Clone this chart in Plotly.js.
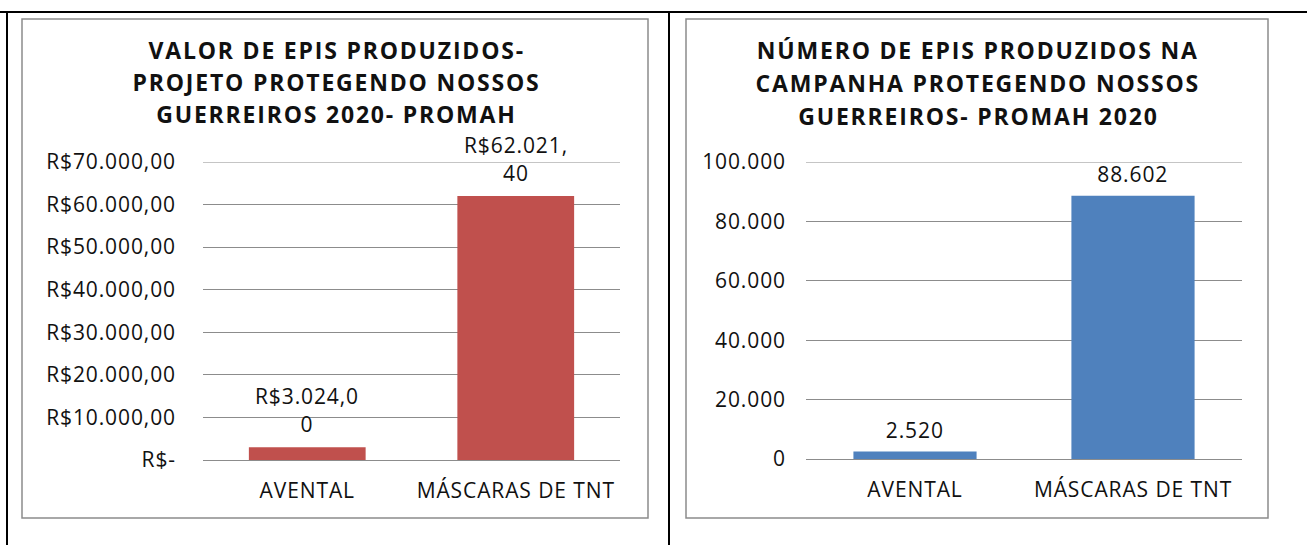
<!DOCTYPE html>
<html><head><meta charset="utf-8">
<script src="https://cdn.plot.ly/plotly-3.0.1.min.js"></script>
<style>
html,body{margin:0;padding:0;background:#fff;overflow:hidden}
#chart{width:1307px;height:545px}
#chart text{letter-spacing:0.9px}
#chart text[style*="font-size: 23px"]{letter-spacing:1.8px}
</style>
</head><body><div id="chart"></div>
<script>
const categories = ["AVENTAL", "MÁSCARAS DE TNT"];
const valorValues = [3024.00, 62021.40];
const numeroValues = [2520, 88602];
const valorTickVals = [0, 10000, 20000, 30000, 40000, 50000, 60000, 70000];
const valorTickText = ["R$-", "R$10.000,00", "R$20.000,00", "R$30.000,00", "R$40.000,00", "R$50.000,00", "R$60.000,00", "R$70.000,00"];
const numeroTickVals = [0, 20000, 40000, 60000, 80000, 100000];
const numeroTickText = ["0", "20.000", "40.000", "60.000", "80.000", "100.000"];
const valorTitleLines = ["VALOR DE EPIS PRODUZIDOS-", "PROJETO PROTEGENDO NOSSOS", "GUERREIROS 2020- PROMAH"];
const numeroTitleLines = ["NÚMERO DE EPIS PRODUZIDOS NA", "CAMPANHA PROTEGENDO NOSSOS", "GUERREIROS- PROMAH 2020"];
const redColor = "#C0504D";
const blueColor = "#4F81BD";

function thousands(intPart) {
  return String(intPart).replace(/\B(?=(\d{3})+(?!\d))/g, ".");
}
function brl(v) {
  const cents = Math.round(v * 100);
  const ip = Math.floor(cents / 100);
  const dp = String(cents % 100).padStart(2, "0");
  return "R$" + thousands(ip) + "," + dp;
}
function wrap(s, n) {
  const out = [];
  for (let i = 0; i < s.length; i += n) out.push(s.slice(i, i + n));
  return out;
}

const FONT = "'Open Sans', Lato, sans-serif";
const TXT = "#111";
const traces = [
  {type: "bar", x: categories, y: valorValues, marker: {color: redColor}, xaxis: "x", yaxis: "y", width: 0.56, hoverinfo: "none"},
  {type: "bar", x: categories, y: numeroValues, marker: {color: blueColor}, xaxis: "x2", yaxis: "y2", width: 0.565, hoverinfo: "none"}
];

function px(x) { return x / 1307; }
function py(y) { return 1 - y / 545; }

const annotations = [];
valorValues.forEach((v, i) => {
  const lines = wrap(brl(v), 9);
  lines.slice().reverse().forEach((ln, k) => {
    annotations.push({x: categories[i], y: v, xref: "x", yref: "y", text: ln, showarrow: false,
      yanchor: "middle", yshift: 23 + k * 28, font: {family: FONT, size: 21, color: TXT}});
  });
});
numeroValues.forEach((v, i) => {
  annotations.push({x: categories[i], y: v, xref: "x2", yref: "y2", text: thousands(v), showarrow: false,
    yanchor: "middle", yshift: 22, font: {family: FONT, size: 21, color: TXT}});
});
valorTitleLines.forEach((ln, k) => {
  annotations.push({x: px(337), y: py(50 + k * 32), xref: "paper", yref: "paper", text: ln, showarrow: false,
    xanchor: "center", yanchor: "middle", font: {family: FONT, size: 23, color: TXT, weight: "bold"}});
});
numeroTitleLines.forEach((ln, k) => {
  annotations.push({x: px(978), y: py(50 + k * 33), xref: "paper", yref: "paper", text: ln, showarrow: false,
    xanchor: "center", yanchor: "middle", font: {family: FONT, size: 23, color: TXT, weight: "bold"}});
});

const gridC = "#8C8C8C";
const shapes = [
  {type: "line", xref: "paper", yref: "paper", x0: px(0), x1: px(1307), y0: py(12), y1: py(12), line: {color: "#000", width: 2}},
  {type: "line", xref: "paper", yref: "paper", x0: px(7), x1: px(7), y0: py(12), y1: py(545), line: {color: "#000", width: 2}},
  {type: "line", xref: "paper", yref: "paper", x0: px(669), x1: px(669), y0: py(12), y1: py(545), line: {color: "#000", width: 2}},
  {type: "rect", xref: "paper", yref: "paper", x0: px(22), x1: px(648), y0: py(19), y1: py(518), line: {color: "#8C8C8C", width: 1.5}},
  {type: "rect", xref: "paper", yref: "paper", x0: px(686), x1: px(1268), y0: py(19), y1: py(518), line: {color: "#8C8C8C", width: 1.5}},
  {type: "line", xref: "x domain", yref: "y", x0: 0, x1: 1, y0: valorTickVals[valorTickVals.length - 1], y1: valorTickVals[valorTickVals.length - 1], line: {color: gridC, width: 1}, layer: "below"},
  {type: "line", xref: "x2 domain", yref: "y2", x0: 0, x1: 1, y0: numeroTickVals[numeroTickVals.length - 1], y1: numeroTickVals[numeroTickVals.length - 1], line: {color: gridC, width: 1}, layer: "below"}
];

const tickFont = {family: FONT, size: 21, color: TXT};
const layout = {
  width: 1307, height: 545,
  margin: {l: 0, r: 0, t: 0, b: 0},
  paper_bgcolor: "#fff", plot_bgcolor: "rgba(0,0,0,0)",
  showlegend: false,
  xaxis: {domain: [px(203), px(620)], showgrid: false, showline: false, zeroline: false, ticks: "", tickfont: tickFont, ticklabelstandoff: 16, fixedrange: true},
  yaxis: {domain: [py(460), py(162)], range: [0, 70000], tickvals: valorTickVals, ticktext: valorTickText, showgrid: true, gridcolor: gridC, gridwidth: 1, zeroline: true, zerolinecolor: gridC, zerolinewidth: 1, showline: false, ticks: "", tickfont: tickFont, ticklabelstandoff: 26, fixedrange: true},
  xaxis2: {domain: [px(806), px(1242)], anchor: "y2", showgrid: false, showline: false, zeroline: false, ticks: "", tickfont: tickFont, ticklabelstandoff: 16, fixedrange: true},
  yaxis2: {domain: [py(459), py(162)], anchor: "x2", range: [0, 100000], tickvals: numeroTickVals, ticktext: numeroTickText, showgrid: true, gridcolor: gridC, gridwidth: 1, zeroline: true, zerolinecolor: gridC, zerolinewidth: 1, showline: false, ticks: "", tickfont: tickFont, ticklabelstandoff: 19, fixedrange: true},
  annotations: annotations,
  shapes: shapes
};
Plotly.newPlot("chart", traces, layout, {displayModeBar: false, staticPlot: true});
</script>
</body></html>
